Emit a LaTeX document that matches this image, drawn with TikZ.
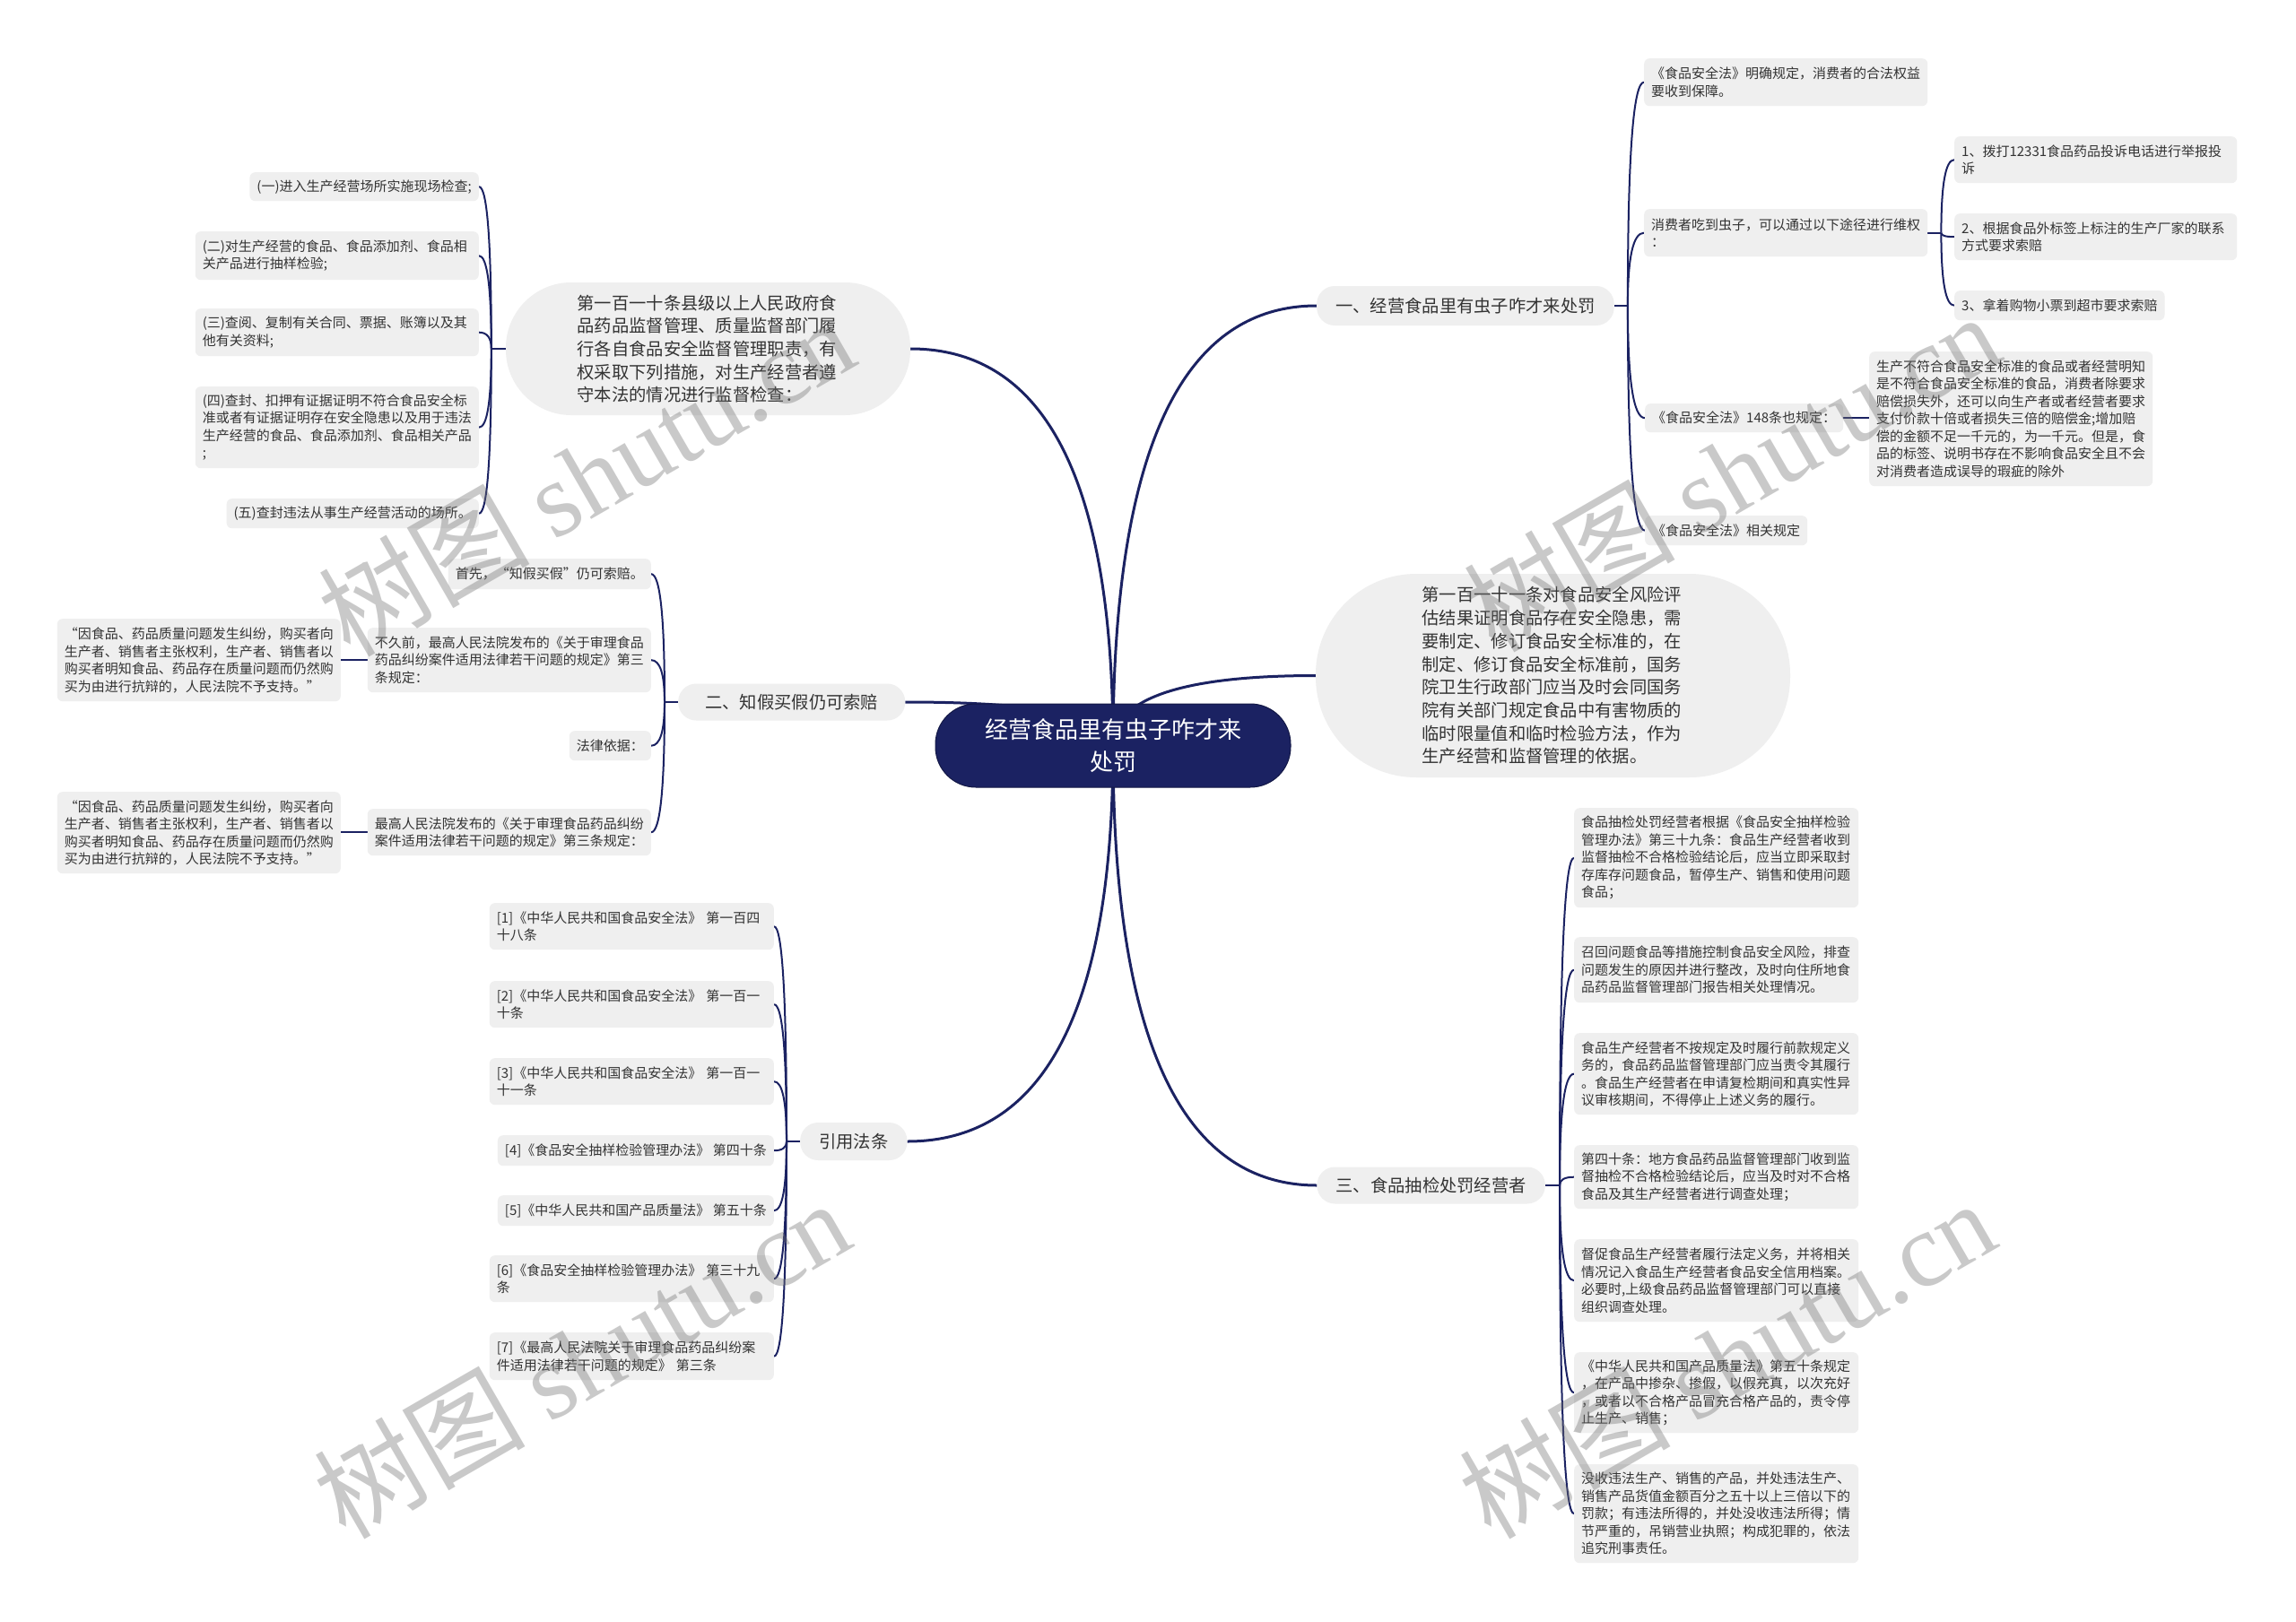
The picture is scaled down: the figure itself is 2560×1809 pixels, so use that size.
\documentclass[tikz,border=0pt]{standalone}
\usepackage{fontspec}
\setmainfont{Noto Sans CJK SC}
\newfontfamily\wmcjk{Noto Sans CJK SC}
\newfontfamily\wmlat{Liberation Serif}
\usetikzlibrary{calc}
\definecolor{navy}{HTML}{1B2262}
\definecolor{boxgray}{HTML}{EFEFEF}
\definecolor{txt}{HTML}{333333}
\pgfdeclarelayer{bg}
\pgfdeclarelayer{fg}
\pgfsetlayers{bg,main,fg}
\newcommand{\qcurve}[4][]{\draw[#1] (#2) .. controls ($(#2)!0.6667!(#3)$) and ($(#4)!0.6667!(#3)$) .. (#4);}
\tikzset{
  leaf/.style={fill=boxgray, rounded corners=6pt, font=\fontsize{15pt}{19.5pt}\selectfont, text=txt, align=left, inner xsep=8pt, inner ysep=4pt},
  lvl/.style={fill=boxgray, rounded corners=20pt, minimum height=42pt, inner xsep=21pt, font=\fontsize{19.3pt}{24pt}\selectfont, text=txt},
  bigpill/.style={fill=boxgray, font=\fontsize{19.3pt}{25.7pt}\selectfont, text=txt, align=left, text width=292pt},
  rootnode/.style={fill=navy, draw=navy!70!black, line width=1pt, rounded corners=45pt, minimum width=396pt, minimum height=93pt, align=center, text=white, font=\fontsize{26pt}{36pt}\selectfont},
  mainln/.style={draw=navy, line width=3pt},
  sub/.style={draw=navy, line width=2pt},
  wm/.style={rotate=30, text=black!55, opacity=0.38, font=\fontsize{118pt}{130pt}\selectfont}
}
\begin{document}
\begin{tikzpicture}[x=1pt, y=-1pt]
\useasboundingbox (0,0) rectangle (2560,1809);
\begin{pgfonlayer}{bg}
\fill[white] (0,0) rectangle (2560,1809);
\end{pgfonlayer}

% root
\node[rootnode] (root) at (1241,831.5) {经营食品里有虫子咋才来\\处罚};

% level 1
\node[lvl, anchor=west, minimum height=44pt] (L1) at (1468,341) {一、经营食品里有虫子咋才来处罚};
\node[lvl, anchor=west, minimum width=253pt, minimum height=41pt] (L2) at (756,783) {二、知假买假仍可索赔};
\node[lvl, anchor=west, minimum height=42pt] (L3) at (892,1273) {引用法条};
\node[lvl, anchor=east, minimum height=41pt] (L4) at (1723,1322) {三、食品抽检处罚经营者};
\node[bigpill, minimum width=451pt, minimum height=148pt, rounded corners=73pt] (P) at (789.5,389) {第一百一十条县级以上人民政府食\\品药品监督管理、质量监督部门履\\行各自食品安全监督管理职责，有\\权采取下列措施，对生产经营者遵\\守本法的情况进行监督检查：};
\node[bigpill, minimum width=529pt, minimum height=227pt, rounded corners=112pt] (B) at (1731.5,753.5) {第一百一十一条对食品安全风险评\\估结果证明食品存在安全隐患，需\\要制定、修订食品安全标准的，在\\制定、修订食品安全标准前，国务\\院卫生行政部门应当及时会同国务\\院有关部门规定食品中有害物质的\\临时限量值和临时检验方法，作为\\生产经营和监督管理的依据。};

% P children
\node[leaf, anchor=north east, minimum height=32pt] (N1) at (534,192) {(一)进入生产经营场所实施现场检查;};
\node[leaf, anchor=north east, text width=300pt, minimum height=54pt] (N2) at (534,258) {(二)对生产经营的食品、食品添加剂、食品相\\关产品进行抽样检验;};
\node[leaf, anchor=north east, text width=300pt, minimum height=53pt] (N3) at (534,344) {(三)查阅、复制有关合同、票据、账簿以及其\\他有关资料;};
\node[leaf, anchor=north east, text width=300pt, minimum height=91pt] (N4) at (534,431) {(四)查封、扣押有证据证明不符合食品安全标\\准或者有证据证明存在安全隐患以及用于违法\\生产经营的食品、食品添加剂、食品相关产品\\;};
\node[leaf, anchor=north east, minimum height=33pt] (N5) at (534,556) {(五)查封违法从事生产经营活动的场所。};

% L2 children
\node[leaf, anchor=north east, minimum height=34pt] (Q1) at (726,623) {首先，“知假买假”仍可索赔。};
\node[leaf, anchor=north east, text width=300pt, minimum height=72pt] (Q2) at (726,700) {不久前，最高人民法院发布的《关于审理食品\\药品纠纷案件适用法律若干问题的规定》第三\\条规定：};
\node[leaf, anchor=north east, text width=300pt, minimum height=92pt] (Q2c) at (380,690) {“因食品、药品质量问题发生纠纷，购买者向\\生产者、销售者主张权利，生产者、销售者以\\购买者明知食品、药品存在质量问题而仍然购\\买为由进行抗辩的，人民法院不予支持。”};
\node[leaf, anchor=north east, minimum height=33pt] (Q3) at (726,815) {法律依据：};
\node[leaf, anchor=north east, text width=300pt, minimum height=52pt] (Q4) at (726,902) {最高人民法院发布的《关于审理食品药品纠纷\\案件适用法律若干问题的规定》第三条规定：};
\node[leaf, anchor=north east, text width=300pt, minimum height=91pt] (Q4c) at (380,883) {“因食品、药品质量问题发生纠纷，购买者向\\生产者、销售者主张权利，生产者、销售者以\\购买者明知食品、药品存在质量问题而仍然购\\买为由进行抗辩的，人民法院不予支持。”};

% L3 children
\node[leaf, anchor=north east, text width=301pt, minimum height=52pt] (R1) at (863,1007) {[1]《中华人民共和国食品安全法》 第一百四\\十八条};
\node[leaf, anchor=north east, text width=301pt, minimum height=52pt] (R2) at (863,1094) {[2]《中华人民共和国食品安全法》 第一百一\\十条};
\node[leaf, anchor=north east, text width=301pt, minimum height=52pt] (R3) at (863,1180) {[3]《中华人民共和国食品安全法》 第一百一\\十一条};
\node[leaf, anchor=north east, minimum height=34pt] (R4) at (863,1266) {[4]《食品安全抽样检验管理办法》 第四十条};
\node[leaf, anchor=north east, minimum height=34pt] (R5) at (863,1333) {[5]《中华人民共和国产品质量法》 第五十条};
\node[leaf, anchor=north east, text width=301pt, minimum height=52pt] (R6) at (863,1400) {[6]《食品安全抽样检验管理办法》 第三十九\\条};
\node[leaf, anchor=north east, text width=301pt, minimum height=53pt] (R7) at (863,1486) {[7]《最高人民法院关于审理食品药品纠纷案\\件适用法律若干问题的规定》 第三条};

% L1 children
\node[leaf, anchor=north west, text width=300pt, minimum height=53pt] (A1) at (1833,65) {《食品安全法》明确规定，消费者的合法权益\\要收到保障。};
\node[leaf, anchor=north west, text width=300pt, minimum height=53pt] (A2) at (1833,233) {消费者吃到虫子，可以通过以下途径进行维权\\：};
\node[leaf, anchor=north west, minimum height=32pt] (A3) at (1834,450) {《食品安全法》148条也规定：};
\node[leaf, anchor=north west, minimum height=33pt] (A4) at (1834,575) {《食品安全法》相关规定};
\node[leaf, anchor=north west, text width=299pt, minimum height=52pt] (A2a) at (2179,152) {1、拨打12331食品药品投诉电话进行举报投\\诉};
\node[leaf, anchor=north west, text width=299pt, minimum height=52pt] (A2b) at (2179,238) {2、根据食品外标签上标注的生产厂家的联系\\方式要求索赔};
\node[leaf, anchor=north west, minimum height=33pt] (A2c) at (2179,324) {3、拿着购物小票到超市要求索赔};
\node[leaf, anchor=north west, text width=300pt, minimum height=150pt] (A3c) at (2084,392) {生产不符合食品安全标准的食品或者经营明知\\是不符合食品安全标准的食品，消费者除要求\\赔偿损失外，还可以向生产者或者经营者要求\\支付价款十倍或者损失三倍的赔偿金;增加赔\\偿的金额不足一千元的，为一千元。但是，食\\品的标签、说明书存在不影响食品安全且不会\\对消费者造成误导的瑕疵的除外};

% L4 children
\node[leaf, anchor=north west, text width=301pt, minimum height=111pt] (C1) at (1755,901) {食品抽检处罚经营者根据《食品安全抽样检验\\管理办法》第三十九条：食品生产经营者收到\\监督抽检不合格检验结论后，应当立即采取封\\存库存问题食品，暂停生产、销售和使用问题\\食品；};
\node[leaf, anchor=north west, text width=301pt, minimum height=73pt] (C2) at (1755,1045) {召回问题食品等措施控制食品安全风险，排查\\问题发生的原因并进行整改，及时向住所地食\\品药品监督管理部门报告相关处理情况。};
\node[leaf, anchor=north west, text width=301pt, minimum height=91pt] (C3) at (1755,1152) {食品生产经营者不按规定及时履行前款规定义\\务的，食品药品监督管理部门应当责令其履行\\。食品生产经营者在申请复检期间和真实性异\\议审核期间，不得停止上述义务的履行。};
\node[leaf, anchor=north west, text width=301pt, minimum height=71pt] (C4) at (1755,1277) {第四十条：地方食品药品监督管理部门收到监\\督抽检不合格检验结论后，应当及时对不合格\\食品及其生产经营者进行调查处理；};
\node[leaf, anchor=north west, text width=301pt, minimum height=92pt] (C5) at (1755,1382) {督促食品生产经营者履行法定义务，并将相关\\情况记入食品生产经营者食品安全信用档案。\\必要时,上级食品药品监督管理部门可以直接\\组织调查处理。};
\node[leaf, anchor=north west, text width=301pt, minimum height=90pt] (C6) at (1755,1508) {《中华人民共和国产品质量法》第五十条规定\\，在产品中掺杂、掺假，以假充真，以次充好\\，或者以不合格产品冒充合格产品的，责令停\\止生产、销售；};
\node[leaf, anchor=north west, text width=301pt, minimum height=110pt] (C7) at (1755,1633) {没收违法生产、销售的产品，并处违法生产、\\销售产品货值金额百分之五十以上三倍以下的\\罚款；有违法所得的，并处没收违法所得；情\\节严重的，吊销营业执照；构成犯罪的，依法\\追究刑事责任。};

% connectors
\begin{pgfonlayer}{bg}
\qcurve[mainln]{root.center}{root.center |- L1.west}{L1.west}
\qcurve[mainln]{root.center}{root.center |- B.west}{B.west}
\qcurve[mainln]{root.center}{root.center |- L4.west}{L4.west}
\qcurve[mainln]{root.center}{root.center |- P.east}{P.east}
\qcurve[mainln]{root.center}{root.center |- L2.east}{L2.east}
\qcurve[mainln]{root.center}{root.center |- L3.east}{L3.east}

\coordinate (Pj) at ($(P.west)+(-16,0)$);
\draw[sub] (P.west) -- (Pj);
\foreach \n in {N1,N2,N3,N4,N5} {\qcurve[sub]{Pj}{Pj |- \n.east}{\n.east}}

\coordinate (L2j) at ($(L2.west)+(-15,0)$);
\draw[sub] (L2.west) -- (L2j);
\foreach \n in {Q1,Q2,Q3,Q4} {\qcurve[sub]{L2j}{L2j |- \n.east}{\n.east}}
\draw[sub] (Q2.west) -- (Q2.west -| Q2c.east);
\draw[sub] (Q4.west) -- (Q4.west -| Q4c.east);

\coordinate (L3j) at ($(L3.west)+(-15,0)$);
\draw[sub] (L3.west) -- (L3j);
\foreach \n in {R1,R2,R3,R4,R5,R6,R7} {\qcurve[sub]{L3j}{L3j |- \n.east}{\n.east}}

\coordinate (L1j) at ($(L1.east)+(15,0)$);
\draw[sub] (L1.east) -- (L1j);
\foreach \n in {A1,A2,A3,A4} {\qcurve[sub]{L1j}{L1j |- \n.west}{\n.west}}

\coordinate (A2j) at ($(A2.east)+(15,0)$);
\draw[sub] (A2.east) -- (A2j);
\foreach \n in {A2a,A2b,A2c} {\qcurve[sub]{A2j}{A2j |- \n.west}{\n.west}}
\draw[sub] (A3.east) -- (A3.east -| A3c.west);

\coordinate (L4j) at ($(L4.east)+(16,0)$);
\draw[sub] (L4.east) -- (L4j);
\foreach \n in {C1,C2,C3,C4,C5,C6,C7} {\qcurve[sub]{L4j}{L4j |- \n.west}{\n.west}}
\end{pgfonlayer}

% watermarks
\begin{pgfonlayer}{fg}
\node[wm] (wm1) at (653,531) {{\wmcjk 树图} {\wmlat shutu.cn}};
\node[wm] (wm2) at (1930,526) {{\wmcjk 树图} {\wmlat shutu.cn}};
\node[wm] (wm3) at (648,1515) {{\wmcjk 树图} {\wmlat shutu.cn}};
\node[wm] (wm4) at (1925,1515) {{\wmcjk 树图} {\wmlat shutu.cn}};
\end{pgfonlayer}
\end{tikzpicture}
\end{document}
